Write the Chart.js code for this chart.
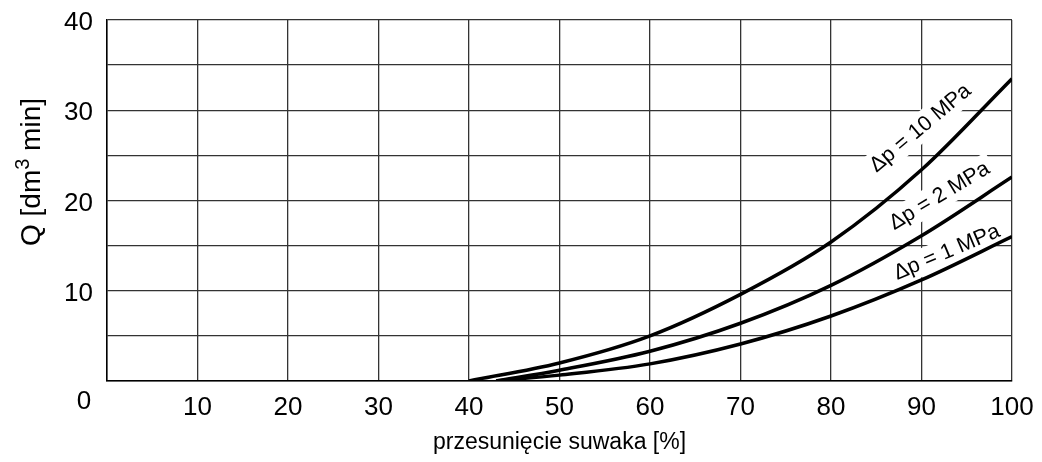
<!DOCTYPE html>
<html>
<head>
<meta charset="utf-8">
<script src="https://cdn.jsdelivr.net/npm/chart.js@4/dist/chart.umd.min.js"></script>
<style>
  html, body { margin: 0; padding: 0; background: #fff; }
  #wrap { width: 1042px; height: 462px; }
</style>
</head>
<body>
<div id="wrap"><canvas id="flowChart" width="1042" height="462"></canvas></div>
<script>
// slide travel [%] and flow Q [dm3/min] per pressure drop
const travel10 = [40, 50, 60, 70, 80, 90, 100];
const flow10 = [0, 2.0, 5.0, 9.6, 15.4, 23.4, 33.5];
const travel2 = [43, 50, 60, 70, 80, 90, 100];
const flow2 = [0, 1.2, 3.3, 6.4, 10.6, 16.1, 22.6];
const travel1 = [43, 50, 60, 70, 80, 90, 100];
const flow1 = [0, 0.65, 1.9, 4.1, 7.2, 11.2, 16.0];
const seriesNames = ['Δp = 10 MPa', 'Δp = 2 MPa', 'Δp = 1 MPa'];
const xTicks = [10, 20, 30, 40, 50, 60, 70, 80, 90, 100];
const yTicks = [10, 20, 30, 40];

const toPoints = (xs, ys) => xs.map((x, i) => ({ x: x, y: ys[i] }));

// where the curve names sit (data units) and their slant in degrees
const curveLabels = [
  { x: 89.9, y: 28.0, angle: 40 },
  { x: 92.0, y: 20.5, angle: 31 },
  { x: 92.8, y: 14.25, angle: 23 }
];

const font = '"Liberation Sans", Arial, sans-serif';

const extrasPlugin = {
  id: 'extras',
  // names go under the curves so the white box only cuts the grid
  beforeDatasetsDraw(chart) {
    const { ctx, scales: { x, y } } = chart;
    ctx.save();
    ctx.font = '21.5px ' + font;
    ctx.textAlign = 'center';
    ctx.textBaseline = 'middle';
    curveLabels.forEach((lab, i) => {
      const w = ctx.measureText(seriesNames[i]).width;
      ctx.save();
      ctx.translate(x.getPixelForValue(lab.x), y.getPixelForValue(lab.y));
      ctx.rotate(-lab.angle * Math.PI / 180);
      ctx.fillStyle = '#fff';
      ctx.fillRect(-w / 2 - 5, -14, w + 10, 27);
      ctx.fillStyle = '#000';
      ctx.fillText(seriesNames[i], 0, 0);
      ctx.restore();
    });
    ctx.restore();
  },
  afterDatasetsDraw(chart) {
    const { ctx, scales: { x, y } } = chart;
    ctx.save();
    ctx.textAlign = 'center';
    ctx.textBaseline = 'middle';
    // shared origin label
    ctx.font = '26px ' + font;
    ctx.fillStyle = '#000';
    ctx.fillText('0', x.left - 23, y.bottom + 21);
    // y axis title with superscript
    ctx.translate(32, 172);
    ctx.rotate(-Math.PI / 2);
    ctx.textAlign = 'left';
    ctx.font = '28px ' + font;
    const a = 'Q [dm', b = '3', c = ' min]';
    const wa = ctx.measureText(a).width;
    const wc = ctx.measureText(c).width;
    ctx.font = '20px ' + font;
    const wb = ctx.measureText(b).width;
    const px = -(wa + wb + wc) / 2;
    ctx.font = '28px ' + font;
    ctx.fillText(a, px, 0);
    ctx.font = '20px ' + font;
    ctx.fillText(b, px + wa, -9);
    ctx.font = '28px ' + font;
    ctx.fillText(c, px + wa + wb, 0);
    ctx.restore();
  }
};

const lineStyle = {
  borderColor: '#000',
  borderWidth: 3.5,
  pointRadius: 0,
  fill: false,
  cubicInterpolationMode: 'monotone'
};

new Chart(document.getElementById('flowChart'), {
  type: 'line',
  data: {
    datasets: [
      Object.assign({ label: seriesNames[0], data: toPoints(travel10, flow10) }, lineStyle),
      Object.assign({ label: seriesNames[1], data: toPoints(travel2, flow2) }, lineStyle),
      Object.assign({ label: seriesNames[2], data: toPoints(travel1, flow1) }, lineStyle)
    ]
  },
  options: {
    responsive: false,
    animation: false,
    layout: { padding: { top: 20, right: 30, left: 0, bottom: 0 } },
    plugins: { legend: { display: false }, tooltip: { enabled: false } },
    scales: {
      x: {
        type: 'linear',
        min: 0,
        max: 100,
        afterFit: (s) => { s.height = 81; s.paddingLeft = 0; s.paddingRight = 0; },
        ticks: {
          stepSize: 10,
          padding: 11,
          color: '#000',
          font: { family: font, size: 26 },
          callback: (v) => xTicks.includes(v) ? String(v) : ''
        },
        grid: { color: '#333', lineWidth: 1.3, drawTicks: false },
        border: { color: '#000', width: 1.5 },
        title: {
          display: true,
          text: 'przesunięcie suwaka [%]',
          color: '#000',
          font: { family: font, size: 23 },
          padding: { top: 0, bottom: 6 }
        }
      },
      y: {
        type: 'linear',
        min: 0,
        max: 40,
        afterFit: (s) => { s.width = 107; s.paddingTop = 0; s.paddingBottom = 0; },
        ticks: {
          stepSize: 5,
          padding: 14,
          labelOffset: 3,
          color: '#000',
          font: { family: font, size: 26 },
          callback: (v) => yTicks.includes(v) ? String(v) : ''
        },
        grid: { color: '#333', lineWidth: 1.3, drawTicks: false },
        border: { color: '#000', width: 1.5 }
      }
    }
  },
  plugins: [extrasPlugin]
});
</script>
</body>
</html>
